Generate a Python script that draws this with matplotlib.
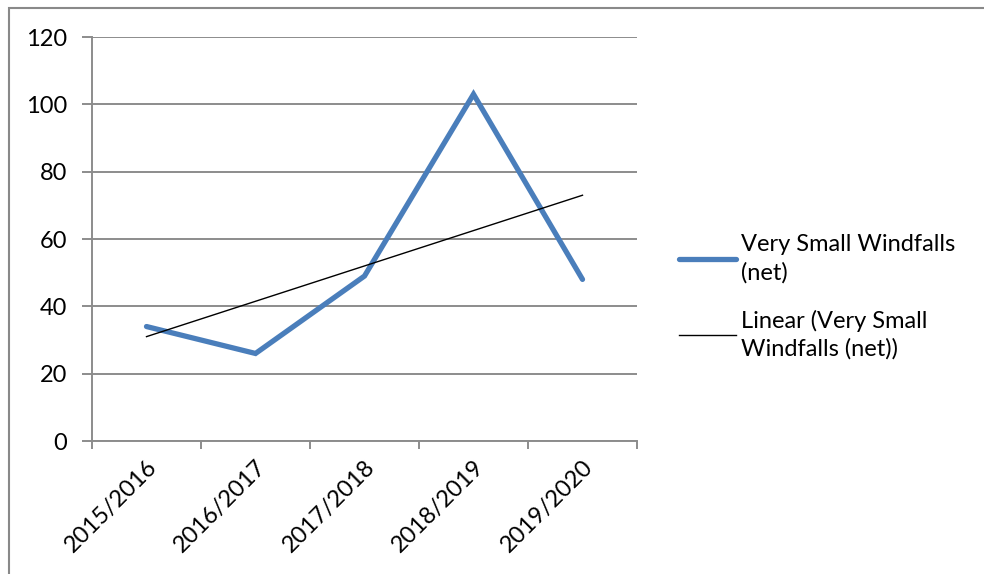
import matplotlib
matplotlib.use("Agg")
import matplotlib.pyplot as plt
import numpy as np
from matplotlib.patches import Rectangle
from matplotlib.lines import Line2D

categories = ["2015/2016", "2016/2017", "2017/2018", "2018/2019", "2019/2020"]
values = [34, 26, 49, 103, 48]
series_name = "Very Small Windfalls\n(net)"
trend_name = "Linear (Very Small\nWindfalls (net))"

plt.rcParams['font.family'] = ['Lato', 'DejaVu Sans']

W, H = 984, 574
fig = plt.figure(figsize=(W / 100, H / 100), dpi=100)
fig.patch.set_facecolor('white')

# outer frame
fig.patches.append(Rectangle((9 / W, -0.1), 1.2, (H - 8) / H + 0.1, transform=fig.transFigure,
                             fill=False, edgecolor='#898989', linewidth=1.5))

left, right, top, bottom = 92, 637, 37, 441
ax = fig.add_axes([left / W, 1 - bottom / H, (right - left) / W, (bottom - top) / H])

x = np.arange(1, len(values) + 1)
ax.plot(x, values, color='#4A7EBB', linewidth=3.8, solid_capstyle='round', solid_joinstyle='miter', zorder=3)
coef = np.polyfit(x, values, 1)
ax.plot(x, np.polyval(coef, x), color='black', linewidth=1.0, zorder=4)

ax.set_xlim(0.5, len(values) + 0.5)
ax.set_ylim(0, 120)
ax.set_yticks(range(0, 121, 20))
ax.yaxis.grid(True, color='#8C8C8C', linewidth=1.4)
ax.set_axisbelow(True)
for s in ['top', 'right']:
    ax.spines[s].set_visible(False)
for s in ['left', 'bottom']:
    ax.spines[s].set_color('#8C8C8C')
    ax.spines[s].set_linewidth(1.4)
ax.set_xticks(np.arange(0.5, len(values) + 1.0, 1.0))
ax.set_xticklabels([])
ax.set_xticks(x, minor=True)
ax.set_xticklabels(categories, minor=True, rotation=45, ha='right', va='top', rotation_mode='anchor', fontsize=17)
ax.tick_params(axis='x', which='minor', length=0, pad=11)
ax.tick_params(axis='x', which='major', length=6, color='#8C8C8C', width=1.4)
ax.tick_params(axis='y', length=7, color='#8C8C8C', width=1.4, labelsize=17, pad=11)

handles = [Line2D([], [], color='#4A7EBB', linewidth=3.8, solid_capstyle='round'),
           Line2D([], [], color='black', linewidth=1.0)]
leg = fig.legend(handles, [series_name, trend_name], loc='center left', bbox_to_anchor=(658 / W, 1 - 297 / H),
                 frameon=False, fontsize=17, handlelength=2.4, handletextpad=0.2, labelspacing=1.1)
for t in leg.get_texts():
    t.set_linespacing(1.4)

fig.savefig('out.png', dpi=100)
